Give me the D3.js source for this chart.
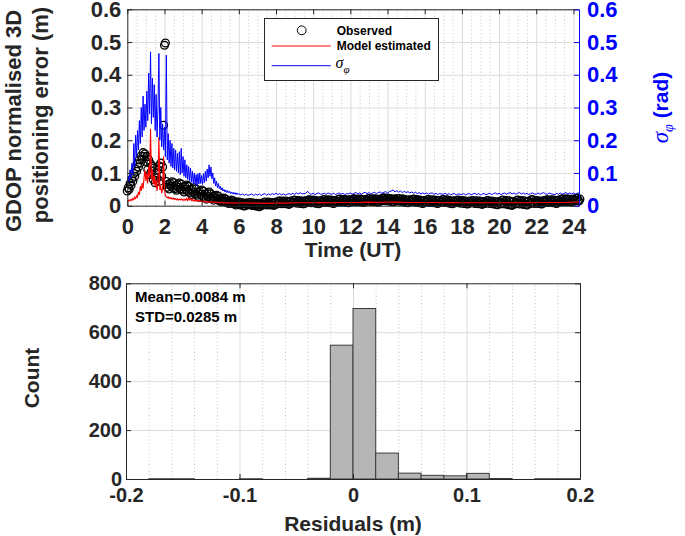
<!DOCTYPE html>
<html><head><meta charset="utf-8">
<script src="https://cdn.jsdelivr.net/npm/d3@7"></script>
<style>
body{margin:0;background:#fff;}
svg text{font-family:"Liberation Sans",Arial,Helvetica,sans-serif;font-weight:bold;}
</style></head><body>
<svg id="chart" width="685" height="536"></svg>
<script>
// ---------------- DATA ----------------
const EARLY_STEP = 0.05;      // hours between early samples (0 - 5.95 UT)
const LATE_START = 6.0;       // first late sample (UT)
const OBS_LATE_STEP = 0.05;   // hours between late observed samples
const SIGMA_LATE_STEP = 0.1;  // hours between late sigma samples
const MODEL_LATE_STEP = 0.5;  // hours between late model samples

const timeTicks = [0,2,4,6,8,10,12,14,16,18,20,22,24];
const errTicks = [0,0.1,0.2,0.3,0.4,0.5,0.6];
const sigmaTicks = [0,0.1,0.2,0.3,0.4,0.5,0.6];

// Observed GDOP-normalised 3D error (m)
const obsEarly = [
0.045,0.055,0.050,0.068,0.062,0.082,0.075,0.098,0.090,0.112,
0.105,0.128,0.118,0.140,0.130,0.152,0.142,0.162,0.150,0.158,
0.135,0.150,0.110,0.140,0.095,0.128,0.105,0.120,0.080,0.115,
0.070,0.100,0.085,0.110,0.122,0.075,0.130,0.090,0.118,0.246,
0.490,0.497,0.074,0.056,0.065,0.051,0.068,0.060,0.073,0.055,
0.070,0.052,0.061,0.047,0.064,0.056,0.069,0.051,0.066,0.048,
0.057,0.042,0.059,0.050,0.063,0.044,0.059,0.040,0.049,0.034,
0.051,0.042,0.055,0.036,0.051,0.032,0.041,0.026,0.043,0.035,
0.048,0.029,0.044,0.026,0.035,0.020,0.037,0.028,0.042,0.023,
0.036,0.021,0.028,0.017,0.030,0.023,0.032,0.018,0.029,0.015,
0.021,0.013,0.021,0.016,0.023,0.013,0.020,0.010,0.014,0.007,
0.015,0.010,0.017,0.007,0.015,0.005,0.010,0.002,0.011,0.007];
const obsLate = [
0.011,0.004,0.002,0.010,0.006,0.000,-0.001,0.007,0.008,0.002,0.003,0.009,0.010,0.003,0.001,0.007,0.008,0.001,-0.001,0.007,
0.004,-0.002,-0.003,0.005,0.007,0.001,0.003,0.009,0.011,0.004,0.002,0.008,0.011,0.004,0.002,0.010,0.008,0.002,0.001,0.009,
0.011,0.005,0.007,0.013,0.015,0.008,0.006,0.012,0.014,0.007,0.006,0.014,0.011,0.005,0.004,0.012,0.014,0.008,0.010,0.016,
0.017,0.010,0.008,0.014,0.016,0.009,0.007,0.015,0.012,0.006,0.006,0.014,0.015,0.009,0.011,0.017,0.018,0.011,0.009,0.015,
0.017,0.010,0.008,0.016,0.013,0.007,0.006,0.014,0.015,0.009,0.012,0.018,0.019,0.012,0.010,0.016,0.018,0.011,0.009,0.017,
0.014,0.008,0.007,0.015,0.016,0.010,0.013,0.019,0.020,0.013,0.011,0.017,0.019,0.012,0.011,0.019,0.016,0.010,0.009,0.017,
0.018,0.012,0.014,0.020,0.021,0.014,0.012,0.018,0.020,0.013,0.012,0.020,0.017,0.011,0.010,0.018,0.019,0.013,0.015,0.021,
0.022,0.015,0.013,0.019,0.021,0.014,0.013,0.021,0.018,0.012,0.011,0.019,0.020,0.014,0.017,0.023,0.024,0.017,0.015,0.021,
0.023,0.016,0.014,0.022,0.019,0.013,0.012,0.020,0.020,0.014,0.016,0.022,0.022,0.015,0.013,0.019,0.021,0.014,0.011,0.019,
0.016,0.010,0.009,0.017,0.018,0.012,0.013,0.019,0.020,0.013,0.011,0.017,0.019,0.012,0.009,0.017,0.014,0.008,0.007,0.015,
0.016,0.010,0.012,0.018,0.019,0.012,0.010,0.016,0.018,0.011,0.009,0.017,0.014,0.008,0.007,0.015,0.016,0.010,0.012,0.018,
0.019,0.012,0.010,0.016,0.018,0.011,0.008,0.016,0.013,0.007,0.006,0.014,0.015,0.009,0.010,0.016,0.017,0.010,0.008,0.014,
0.016,0.009,0.007,0.015,0.012,0.006,0.005,0.013,0.014,0.008,0.010,0.015,0.016,0.009,0.007,0.013,0.015,0.008,0.006,0.014,
0.011,0.005,0.004,0.012,0.013,0.007,0.009,0.015,0.016,0.009,0.007,0.012,0.014,0.007,0.005,0.013,0.010,0.004,0.003,0.011,
0.013,0.005,0.008,0.016,0.017,0.008,0.005,0.013,0.016,0.006,0.003,0.015,0.011,0.002,0.001,0.012,0.013,0.005,0.008,0.016,
0.017,0.008,0.005,0.013,0.016,0.006,0.004,0.015,0.011,0.004,0.002,0.013,0.014,0.006,0.009,0.018,0.019,0.010,0.007,0.015,
0.016,0.009,0.007,0.015,0.012,0.006,0.005,0.014,0.015,0.009,0.011,0.017,0.018,0.011,0.010,0.016,0.018,0.011,0.009,0.017,
0.014,0.008,0.007,0.015,0.017,0.011,0.013,0.019,0.021,0.014,0.012,0.018,0.021,0.014,0.012,0.020,0.018,0.012,0.011,0.019,
0.020,0.014,0.016,0.022,0.023,0.016,0.014,0.020];

// Model estimated error (m)
const modelEarly = [
0.017,0.014,0.018,0.015,0.020,0.016,0.022,0.019,0.026,0.022,
0.030,0.026,0.042,0.033,0.060,0.045,0.070,0.052,0.085,0.110,
0.075,0.100,0.068,0.120,0.088,0.235,0.080,0.110,0.065,0.092,
0.058,0.080,0.045,0.070,0.210,0.048,0.060,0.038,0.052,0.150,
0.055,0.030,0.028,0.024,0.027,0.022,0.025,0.021,0.024,0.020,
0.023,0.019,0.022,0.018,0.021,0.017,0.020,0.018,0.021,0.017,
0.019,0.016,0.020,0.017,0.022,0.016,0.024,0.018,0.021,0.016,
0.019,0.015,0.018,0.014,0.017,0.014,0.016,0.013,0.015,0.013,
0.014,0.012,0.014,0.012,0.013,0.011,0.013,0.011,0.012,0.011,
0.012,0.010,0.012,0.010,0.011,0.010,0.011,0.009,0.011,0.009,
0.010,0.009,0.010,0.009,0.010,0.009,0.009,0.008,0.009,0.008,
0.009,0.008,0.009,0.008,0.008,0.009,0.008,0.008,0.009,0.008];
const modelLate = [
0.009,0.008,0.008,0.007,0.008,0.008,0.009,0.009,0.009,0.010,
0.009,0.010,0.010,0.010,0.011,0.010,0.011,0.011,0.010,0.010,
0.010,0.010,0.009,0.010,0.009,0.009,0.009,0.009,0.009,0.009,
0.009,0.009,0.010,0.010,0.010,0.010,0.011,0.011];

// sigma_phi (rad)
const sigmaEarly = [
0.065,0.090,0.075,0.110,0.085,0.130,0.095,0.190,0.120,0.215,
0.150,0.230,0.170,0.260,0.190,0.300,0.210,0.335,0.230,0.310,
0.240,0.350,0.260,0.405,0.280,0.470,0.250,0.390,0.270,0.370,
0.230,0.340,0.210,0.300,0.465,0.200,0.300,0.180,0.250,0.170,
0.240,0.150,0.460,0.140,0.220,0.130,0.200,0.120,0.190,0.115,
0.175,0.110,0.170,0.105,0.160,0.100,0.165,0.095,0.175,0.100,
0.150,0.090,0.140,0.085,0.125,0.080,0.120,0.075,0.115,0.072,
0.105,0.068,0.100,0.065,0.095,0.062,0.098,0.066,0.100,0.068,
0.092,0.065,0.098,0.070,0.105,0.075,0.112,0.085,0.125,0.090,
0.118,0.082,0.100,0.068,0.085,0.060,0.075,0.055,0.068,0.052,
0.060,0.048,0.055,0.045,0.050,0.042,0.048,0.040,0.046,0.039,
0.044,0.037,0.042,0.036,0.041,0.035,0.040,0.034,0.039,0.034];
const sigmaLate = [
0.037,0.033,0.036,0.032,0.035,0.031,0.034,0.036,0.031,0.035,
0.032,0.036,0.031,0.035,0.037,0.032,0.036,0.033,0.037,0.034,
0.038,0.034,0.037,0.033,0.036,0.032,0.035,0.037,0.034,0.038,
0.035,0.039,0.036,0.040,0.036,0.037,0.038,0.044,0.037,0.035,
0.038,0.034,0.037,0.039,0.035,0.036,0.038,0.035,0.039,0.036,
0.035,0.038,0.034,0.037,0.039,0.035,0.038,0.034,0.037,0.036,
0.039,0.035,0.038,0.040,0.036,0.039,0.035,0.039,0.041,0.037,
0.040,0.036,0.039,0.041,0.037,0.040,0.042,0.038,0.041,0.043,
0.039,0.043,0.045,0.048,0.042,0.046,0.041,0.045,0.040,0.044,
0.040,0.043,0.039,0.042,0.038,0.041,0.037,0.040,0.036,0.039,
0.036,0.039,0.035,0.038,0.039,0.035,0.038,0.034,0.037,0.036,
0.035,0.038,0.034,0.037,0.033,0.036,0.037,0.033,0.036,0.035,
0.034,0.037,0.033,0.036,0.037,0.033,0.036,0.038,0.034,0.037,
0.033,0.036,0.037,0.033,0.036,0.038,0.034,0.037,0.039,0.035,
0.038,0.034,0.037,0.039,0.035,0.038,0.040,0.036,0.039,0.035,
0.038,0.040,0.036,0.039,0.035,0.038,0.034,0.037,0.039,0.036,
0.035,0.039,0.035,0.038,0.040,0.036,0.035,0.039,0.036,0.035,
0.034,0.038,0.035,0.039,0.035,0.038,0.040,0.036,0.039,0.036,
0.039,0.035,0.038,0.039];

// Histogram of residuals
const BIN_WIDTH = 0.02;
const binStarts = [-0.18,-0.16,-0.14,-0.12,-0.10,-0.08,-0.06,-0.04,-0.02,0.00,0.02,0.04,0.06,0.08,0.10,0.12,0.14,0.16,0.18];
const binCounts = [1,1,0,0,1,0,0,3,547,697,106,24,15,13,23,2,0,1,1];
const residTicks = [-0.2,-0.1,0,0.1,0.2];
const countTicks = [0,200,400,600,800];
const statsLines = ["Mean=0.0084 m","STD=0.0285 m"];

// ---------------- DRAW ----------------
const svg = d3.select("#chart");
svg.append("rect").attr("width",685).attr("height",536).attr("fill","#fff");
const fmt = d => String(+(+d).toFixed(3));
const MAJOR = "#dcdcdc", MINOR = "#c4c4c4", AX = "#262626", BLUE = "#0000ff";
const SERIF = "'Liberation Serif','DejaVu Serif',serif";

// ===== top panel =====
const xT = d3.scaleLinear().domain([0, 24.3]).range([127.3, 579]);
const yL = d3.scaleLinear().domain([0, 0.6]).range([205.7, 9.3]);
const yR = d3.scaleLinear().domain([0, 0.6]).range([205.7, 9.3]);
const tH = 205.7 - 9.3, tW = 579 - 127.3;

const topG = svg.append("g");
const xMinor = d3.range(0.5, 24.3, 0.5).filter(v => Math.abs(v/2 - Math.round(v/2)) > 1e-6);
topG.append("g").attr("transform","translate(0,205.7)")
  .call(d3.axisBottom(xT).tickValues(xMinor).tickSize(-tH).tickFormat(""))
  .call(g => { g.select(".domain").remove(); g.selectAll("line").attr("stroke",MINOR).attr("stroke-dasharray","1,2.5"); });
topG.append("g").attr("transform","translate(0,205.7)")
  .call(d3.axisBottom(xT).tickValues(timeTicks.slice(1)).tickSize(-tH).tickFormat(""))
  .call(g => { g.select(".domain").remove(); g.selectAll("line").attr("stroke",MAJOR); });
topG.append("g").attr("transform","translate(127.3,0)")
  .call(d3.axisLeft(yL).tickValues(errTicks.slice(1)).tickSize(-tW).tickFormat(""))
  .call(g => { g.select(".domain").remove(); g.selectAll("line").attr("stroke",MAJOR); });

svg.append("clipPath").attr("id","clipT").append("rect")
  .attr("x",127.3).attr("y",0).attr("width",tW).attr("height",536);

const obs = obsEarly.map((v,i)=>({t:i*EARLY_STEP, v}))
  .concat(obsLate.map((v,i)=>({t:LATE_START+i*OBS_LATE_STEP, v})));
const model = modelEarly.map((v,i)=>({t:i*EARLY_STEP, v}))
  .concat(modelLate.map((v,i)=>({t:LATE_START+i*MODEL_LATE_STEP, v})));
const sigma = sigmaEarly.map((v,i)=>({t:i*EARLY_STEP, v}))
  .concat(sigmaLate.map((v,i)=>({t:LATE_START+i*SIGMA_LATE_STEP, v})));

topG.append("g").selectAll("circle").data(obs).join("circle")
  .attr("cx", d=>xT(d.t)).attr("cy", d=>yL(d.v)).attr("r",3.9)
  .attr("fill","none").attr("stroke","#000").attr("stroke-width",1.3);
topG.append("path").datum(model).attr("clip-path","url(#clipT)")
  .attr("d", d3.line().x(d=>xT(d.t)).y(d=>yL(d.v)))
  .attr("fill","none").attr("stroke","#ff0000").attr("stroke-width",1.1);
topG.append("path").datum(sigma).attr("clip-path","url(#clipT)")
  .attr("d", d3.line().x(d=>xT(d.t)).y(d=>yR(d.v)))
  .attr("fill","none").attr("stroke",BLUE).attr("stroke-width",1);

function styleAxis(g, color, fs){
  g.select(".domain").attr("stroke",color);
  g.selectAll(".tick line").attr("stroke",color);
  g.selectAll(".tick text").attr("fill",color).style("font-size",fs+"px");
}
topG.append("g").attr("transform","translate(0,205.7)")
  .call(d3.axisBottom(xT).tickValues(timeTicks).tickSizeInner(-5).tickSizeOuter(0).tickPadding(13).tickFormat(fmt))
  .call(g=>styleAxis(g,AX,22));
topG.append("g").attr("transform","translate(0,9.3)")
  .call(d3.axisTop(xT).tickValues(timeTicks).tickSizeInner(-5).tickSizeOuter(0).tickFormat(""))
  .call(g=>styleAxis(g,AX,22));
topG.append("g").attr("transform","translate(127.3,0)")
  .call(d3.axisLeft(yL).tickValues(errTicks).tickSizeInner(-5).tickSizeOuter(0).tickPadding(6).tickFormat(fmt))
  .call(g=>styleAxis(g,AX,22));
topG.append("g").attr("transform","translate(579,0)")
  .call(d3.axisRight(yR).tickValues(sigmaTicks).tickSizeInner(-5).tickSizeOuter(0).tickPadding(8).tickFormat(fmt))
  .call(g=>styleAxis(g,BLUE,22));

svg.append("text").attr("x",353).attr("y",257).attr("text-anchor","middle")
  .style("font-size","21px").attr("fill",AX).text("Time (UT)");
const yl = svg.append("text").attr("transform","rotate(-90)")
  .attr("text-anchor","middle").style("font-size","22px").attr("fill",AX);
yl.append("tspan").attr("x",-121).attr("y",20.5).text("GDOP normalised 3D");
yl.append("tspan").attr("x",-115).attr("y",47.5).text("positioning error (m)");
const yr = svg.append("text").attr("transform","translate(668,107.5) rotate(-90)")
  .attr("text-anchor","middle").style("font-size","21px").attr("fill",BLUE);
yr.append("tspan").style("font-family",SERIF).style("font-style","italic").style("font-weight","normal").style("font-size","23px").text("σ");
yr.append("tspan").attr("dy",5).style("font-size","14px").style("font-family",SERIF).style("font-style","italic").style("font-weight","normal").text("φ");
yr.append("tspan").attr("dy",-5).text(" (rad)");

// legend
const lg = svg.append("g");
lg.append("rect").attr("x",264.5).attr("y",18.5).attr("width",174).attr("height",62)
  .attr("fill","#fff").attr("stroke",AX).attr("stroke-width",1);
lg.append("circle").attr("cx",301.7).attr("cy",30.3).attr("r",4.4).attr("fill","none").attr("stroke","#000");
lg.append("line").attr("x1",271.7).attr("x2",330.7).attr("y1",46).attr("y2",46).attr("stroke","#ff0000");
lg.append("line").attr("x1",271.7).attr("x2",330.7).attr("y1",65.7).attr("y2",65.7).attr("stroke",BLUE);
lg.append("text").attr("x",336.7).attr("y",34.5).style("font-size","12px").attr("fill","#000").text("Observed");
lg.append("text").attr("x",336.7).attr("y",50.3).style("font-size","12px").attr("fill","#000").text("Model estimated");
const ls = lg.append("text").attr("x",335.5).attr("y",68).attr("fill","#000");
ls.append("tspan").style("font-size","16px").style("font-family",SERIF).style("font-style","italic").style("font-weight","normal").text("σ");
ls.append("tspan").attr("dy",5).style("font-size","11px").style("font-family",SERIF).style("font-style","italic").style("font-weight","normal").text("φ");

// ===== bottom panel (histogram) =====
const xB = d3.scaleLinear().domain([-0.2, 0.2]).range([126, 580]);
const yB = d3.scaleLinear().domain([0, 800]).range([479, 283.3]);
const bH = 479 - 283.3, bW = 580 - 126;
const botG = svg.append("g");
const rMinor = d3.range(-0.18, 0.2, 0.02).filter(v => Math.abs(v*10 - Math.round(v*10)) > 1e-6);
botG.append("g").attr("transform","translate(0,479)")
  .call(d3.axisBottom(xB).tickValues(rMinor).tickSize(-bH).tickFormat(""))
  .call(g => { g.select(".domain").remove(); g.selectAll("line").attr("stroke",MINOR).attr("stroke-dasharray","1,2.5"); });
botG.append("g").attr("transform","translate(0,479)")
  .call(d3.axisBottom(xB).tickValues([-0.1,0,0.1]).tickSize(-bH).tickFormat(""))
  .call(g => { g.select(".domain").remove(); g.selectAll("line").attr("stroke",MAJOR); });
botG.append("g").attr("transform","translate(126,0)")
  .call(d3.axisLeft(yB).tickValues([200,400,600]).tickSize(-bW).tickFormat(""))
  .call(g => { g.select(".domain").remove(); g.selectAll("line").attr("stroke",MAJOR); });

const bins = binStarts.map((s,i)=>({x0:s, x1:s+BIN_WIDTH, n:binCounts[i]}));
botG.append("g").selectAll("rect").data(bins).join("rect")
  .attr("x", d=>xB(d.x0)).attr("width", d=>xB(d.x1)-xB(d.x0))
  .attr("y", d=>yB(d.n)).attr("height", d=>yB(0)-yB(d.n))
  .attr("fill","#b6b6b6").attr("stroke","#3a3a3a").attr("stroke-width",1);

botG.append("g").attr("transform","translate(0,479)")
  .call(d3.axisBottom(xB).tickValues(residTicks).tickSizeInner(-5).tickSizeOuter(0).tickPadding(9).tickFormat(fmt))
  .call(g=>styleAxis(g,AX,20));
botG.append("g").attr("transform","translate(0,283.3)")
  .call(d3.axisTop(xB).tickValues(residTicks).tickSizeInner(-5).tickSizeOuter(0).tickFormat(""))
  .call(g=>styleAxis(g,AX,20));
botG.append("g").attr("transform","translate(126,0)")
  .call(d3.axisLeft(yB).tickValues(countTicks).tickSizeInner(-5).tickSizeOuter(0).tickPadding(4).tickFormat(fmt))
  .call(g=>styleAxis(g,AX,20));
botG.append("g").attr("transform","translate(580,0)")
  .call(d3.axisRight(yB).tickValues(countTicks).tickSizeInner(-5).tickSizeOuter(0).tickFormat(""))
  .call(g=>styleAxis(g,AX,20));

svg.append("text").attr("x",353).attr("y",531).attr("text-anchor","middle")
  .style("font-size","21px").attr("fill",AX).text("Residuals (m)");
svg.append("text").attr("transform","translate(39,378) rotate(-90)").attr("text-anchor","middle")
  .style("font-size","21px").attr("fill",AX).text("Count");
svg.append("g").selectAll("text").data(statsLines).join("text")
  .attr("x",135).attr("y",(d,i)=>302+i*19.5).style("font-size","15px").attr("fill","#000").text(d=>d);
</script>
</body></html>
